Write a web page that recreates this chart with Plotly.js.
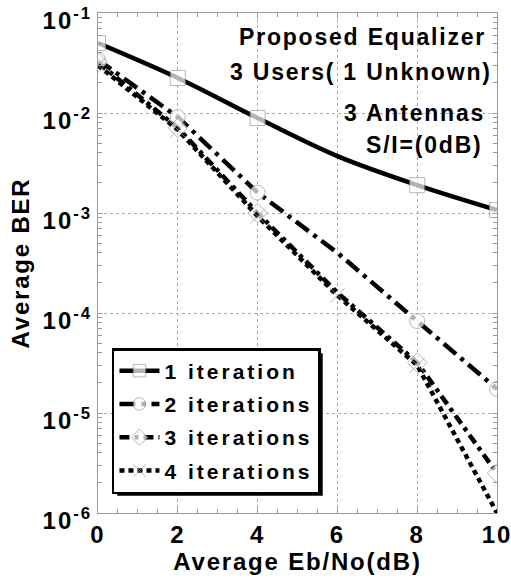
<!DOCTYPE html>
<html>
<head>
<meta charset="utf-8">
<script src="https://cdn.plot.ly/plotly-3.0.1.min.js"></script>
<style>
html,body{margin:0;padding:0;background:#fff;}
.legendtext{letter-spacing:3px;}
.annotation-text{letter-spacing:1.8px;}
.xtick text, .ytick text{letter-spacing:2px;}
.xtitle, .ytitle{letter-spacing:1.8px;}
</style>
</head>
<body>
<div id="chart" style="width:511px;height:581px;"></div>
<script>
// Data
const ebno = [0, 2, 4, 6, 8, 10];
const ber1 = [0.050, 0.0224, 0.0089, 0.0037, 0.0019, 0.00107];
const ber2 = [0.034, 0.0091, 0.0016, 0.00040, 0.000083, 0.0000174];
const ber3 = [0.032, 0.0071, 0.0010, 0.00016, 0.000032, 0.0000025];
const ber4 = [0.030, 0.0068, 0.00093, 0.00015, 0.000030, 0.000001];
const seriesNames = ['1 iteration', '2 iterations', '3 iterations', '4 iterations'];
const markerShown1 = [1, 1, 1, 0, 1, 1];
const markerShown2 = [1, 1, 1, 0, 1, 1];
const markerShown3 = [1, 1, 1, 0, 1, 1];
const markerShown4 = [1, 1, 1, 1, 1, 0];
const xTickVals = [0, 2, 4, 6, 8, 10];
const yTickVals = [1e-6, 1e-5, 1e-4, 1e-3, 1e-2, 1e-1];
const yTickText = ['10<sup>-6</sup>', '10<sup>-5</sup>', '10<sup>-4</sup>', '10<sup>-3</sup>', '10<sup>-2</sup>', '10<sup>-1</sup>'];
const notes = ['Proposed Equalizer', '3 Users( 1 Unknown)', '3 Antennas', 'S/I=(0dB)'];

const FONT = 'Liberation Sans, Arial, sans-serif';
const MSIZE = 15;
function sizes(arr) { return arr.map(v => v ? MSIZE : 0); }

function mk(y, name, dash, symbol, shown, grp, shape) {
  return {
    x: ebno, y: y, name: name, type: 'scatter', mode: 'lines+markers',
    legendgroup: grp,
    line: {color: '#000', width: 4.5, dash: dash, shape: shape || 'linear'},
    marker: {symbol: symbol, size: sizes(shown), color: '#fff',
             line: {color: '#999', width: 1}}
  };
}

const traces = [
  mk(ber1, seriesNames[0], 'solid', 'square', markerShown1, 'g1', 'spline'),
  mk(ber2, seriesNames[1], '16px,6px,4px,6px', 'circle', markerShown2, 'g2'),
  mk(ber3, seriesNames[2], '10px,5px,4px,5px', 'diamond', markerShown3, 'g3'),
  mk(ber4, seriesNames[3], '5px,4px', 'x-thin-open', markerShown4, 'g4')
];
traces[3].marker = {symbol: 'x-thin-open', size: sizes(markerShown4), color: '#999', line: {color: '#999', width: 1}};

const noteX = [0.978, 0.992, 0.975, 0.97];
const noteY = [0.952, 0.882, 0.80, 0.736];
const annotations = notes.map((t, i) => ({
  text: '<b>' + t + '</b>', xref: 'paper', yref: 'paper',
  x: noteX[i], y: noteY[i], xanchor: 'right', yanchor: 'middle',
  showarrow: false, font: {family: FONT, size: 23, color: '#000'}
}));

const layout = {
  width: 511, height: 581,
  margin: {l: 98, r: 14, t: 13, b: 68},
  paper_bgcolor: '#fff', plot_bgcolor: '#fff',
  showlegend: true,
  legend: {
    x: 0.035, y: 0.33, xanchor: 'left', yanchor: 'top',
    bgcolor: '#fff', bordercolor: '#000', borderwidth: 2.5,
    tracegroupgap: 3, itemwidth: 40,
    font: {family: FONT, size: 21, color: '#000', weight: 'bold'}
  },
  xaxis: {
    range: [0, 10], tickvals: xTickVals,
    tickfont: {family: FONT, size: 24, color: '#000', weight: 'bold'},
    ticklabeloverflow: 'allow',
    showgrid: true, gridcolor: '#aaa', griddash: 'dot', gridwidth: 1,
    showline: true, linecolor: '#999', linewidth: 1, mirror: 'ticks',
    ticks: 'inside', ticklen: 5, tickcolor: '#999',
    minor: {dtick: 0.5, ticks: 'inside', ticklen: 4, tickcolor: '#999', showgrid: false},
    zeroline: false,
    title: {text: '<b>Average Eb/No(dB)</b>', font: {family: FONT, size: 24, color: '#000'}, standoff: 4}
  },
  yaxis: {
    type: 'log', range: [-6, -1],
    tickvals: yTickVals, ticktext: yTickText,
    tickfont: {family: FONT, size: 24, color: '#000', weight: 'bold'},
    ticklabeloverflow: 'allow', ticklabelshift: 8,
    showgrid: true, gridcolor: '#aaa', griddash: 'dot', gridwidth: 1,
    showline: true, linecolor: '#999', linewidth: 1, mirror: 'ticks',
    ticks: 'inside', ticklen: 5, tickcolor: '#999',
    minor: {dtick: 'D1', ticks: 'inside', ticklen: 4, tickcolor: '#999', showgrid: false},
    zeroline: false,
    title: {text: '<b>Average BER</b>', font: {family: FONT, size: 24, color: '#000'}, standoff: 6}
  },
  annotations: annotations
};

const gd = document.getElementById('chart');
Plotly.newPlot(gd, traces, layout, {displayModeBar: false, staticPlot: true}).then(() => {
  // drop shadow behind the legend box
  const bg = gd.querySelector('.legend .bg');
  if (!bg) return;
  const r = bg.getBoundingClientRect();
  const c = gd.getBoundingClientRect();
  const s = gd._fullLayout._size;
  const off = 4;
  const px = v => (v - c.left - s.l) / s.w;
  const py = v => 1 - (v - c.top - s.t) / s.h;
  return Plotly.relayout(gd, {shapes: [{
    type: 'rect', xref: 'paper', yref: 'paper', layer: 'above',
    x0: px(r.left + off), x1: px(r.right + off - 1),
    y0: py(r.bottom + off - 1), y1: py(r.top + off),
    fillcolor: '#000', line: {width: 0}
  }]});
});
</script>
</body>
</html>
